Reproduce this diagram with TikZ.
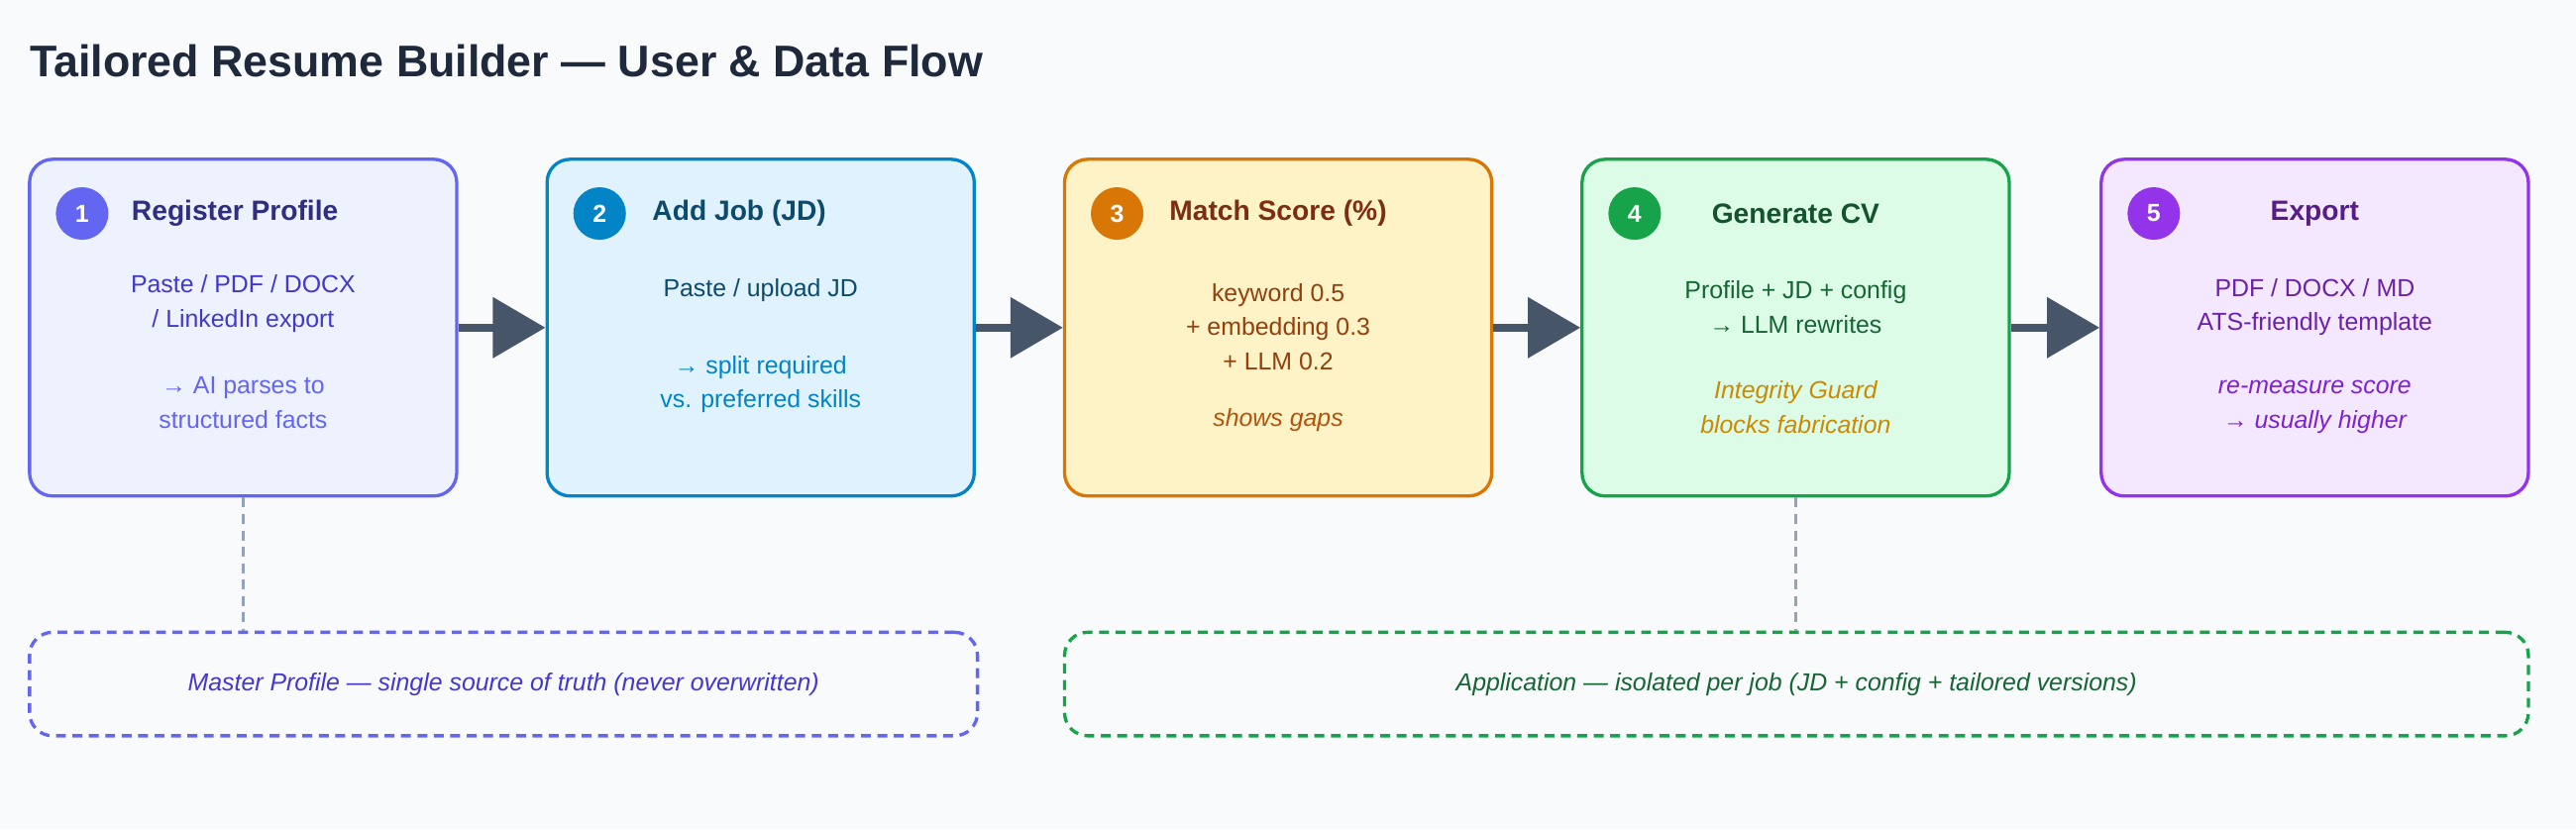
\documentclass[tikz,border=0pt]{standalone}
\usepackage{fontspec}
\setmainfont{Liberation Sans}
\usepackage{tikz}
\usetikzlibrary{arrows.meta, positioning}

\definecolor{bgpage}{HTML}{F8FAFC}
\definecolor{arrowgray}{HTML}{475569}
\definecolor{dashgray}{HTML}{94A3B8}
\definecolor{titlecol}{HTML}{1E293B}
% indigo
\definecolor{indigoA}{HTML}{6366F1}
\definecolor{indigoF}{HTML}{EEF2FF}
\definecolor{indigoT}{HTML}{312E81}
\definecolor{indigoB}{HTML}{4338CA}
% sky
\definecolor{skyA}{HTML}{0284C7}
\definecolor{skyF}{HTML}{E0F2FE}
\definecolor{skyT}{HTML}{0C4A6E}
% amber
\definecolor{amberA}{HTML}{D97706}
\definecolor{amberF}{HTML}{FEF3C7}
\definecolor{amberT}{HTML}{7C2D12}
\definecolor{amberB}{HTML}{92400E}
\definecolor{amberS}{HTML}{B45309}
% green
\definecolor{greenA}{HTML}{16A34A}
\definecolor{greenF}{HTML}{DCFCE7}
\definecolor{greenT}{HTML}{14532D}
\definecolor{greenB}{HTML}{166534}
\definecolor{goldS}{HTML}{CA8A04}
% purple
\definecolor{purpleA}{HTML}{9333EA}
\definecolor{purpleF}{HTML}{F3E8FF}
\definecolor{purpleT}{HTML}{581C87}
\definecolor{purpleB}{HTML}{6B21A8}
\definecolor{purpleS}{HTML}{7E22CE}

\begin{document}
\begin{tikzpicture}[
			x=1pt, y=-1pt,
			nodes = {
				align = center,
				inner sep = 0pt
			},
			block/.style={
				draw=#1,
				line width=2pt,
				rounded corners=14pt,
				rectangle,
				minimum width=260pt,
				minimum height=205pt
			},
			badge/.style={
				circle,
				fill=#1,
				text=white,
				minimum size=32pt,
				font=\fontsize{15}{18}\selectfont\bfseries
			},
			head/.style={
				font=\fontsize{17}{20}\selectfont\bfseries
			},
			body/.style={
				font=\fontsize{15}{21}\selectfont
			},
			note/.style={
				font=\fontsize{15}{21}\selectfont\itshape
			},
			group/.style={
				draw=#1,
				dash pattern=on 6pt off 4pt,
				line width=2pt,
				rounded corners=14pt,
				rectangle,
				minimum height=63pt
			},
			lines/.style={
				line width=5pt,
				draw=arrowgray,
				-{Triangle[length=32pt,width=36pt]}
			}
		]
			\fill[bgpage] (0,0) rectangle (1568,505);

			\node[anchor=base west, text=titlecol,
				font=\fontsize{27}{30}\selectfont\bfseries]
				(title) at (18,47) {Tailored Resume Builder — User \& Data Flow};

			% step 1
			\node[block=indigoA, fill=indigoF] (reg) at (148,199.5) {};
			\node[badge=indigoA] (n1) at (50,130) {1};
			\node[head, text=indigoT, anchor=west] (treg) at (80,130) {Register Profile};
			\node[body, text=indigoB] (breg) at (148,185) {Paste / PDF / DOCX\\/ LinkedIn export};
			\node[body, text=indigoA] (sreg) at (148,245) {→ AI parses to\\structured facts};

			% step 2
			\node[block=skyA, fill=skyF] (job) at (463,199.5) {};
			\node[badge=skyA] (n2) at (365,130) {2};
			\node[head, text=skyT] (tjob) at (450,130) {Add Job (JD)};
			\node[body, text=skyT] (bjob) at (463,177) {Paste / upload JD};
			\node[body, text=skyA] (sjob) at (463,234) {→ split required\\vs. preferred skills};

			% step 3
			\node[block=amberA, fill=amberF] (match) at (778,199.5) {};
			\node[badge=amberA] (n3) at (680,130) {3};
			\node[head, text=amberT] (tmatch) at (778,130) {Match Score (\%)};
			\node[body, text=amberB] (bmatch) at (778,199) {keyword 0.5\\+ embedding 0.3\\+ LLM 0.2};
			\node[note, text=amberS] (smatch) at (778,256) {shows gaps};

			% step 4
			\node[block=greenA, fill=greenF] (gen) at (1093,199.5) {};
			\node[badge=greenA] (n4) at (995,130) {4};
			\node[head, text=greenT] (tgen) at (1093,130) {Generate CV};
			\node[body, text=greenB] (bgen) at (1093,187) {Profile + JD + config\\→ LLM rewrites};
			\node[note, text=goldS] (sgen) at (1093,248) {Integrity Guard\\blocks fabrication};

			% step 5
			\node[block=purpleA, fill=purpleF] (exp) at (1409,199.5) {};
			\node[badge=purpleA] (n5) at (1311,130) {5};
			\node[head, text=purpleT] (texp) at (1409,130) {Export};
			\node[body, text=purpleB] (bexp) at (1409,187) {PDF / DOCX / MD\\ATS-friendly template};
			\node[note, text=purpleS] (sexp) at (1409,248) {re-measure score\\→ usually higher};

			\draw[lines] (reg.east) -- (job.west);
			\draw[lines] (job.east) -- (match.west);
			\draw[lines] (match.east) -- (gen.west);
			\draw[lines] (gen.east) -- (exp.west);

			% data scopes
			\node[group=indigoA, minimum width=577pt, note, text=indigoB]
				(master) at (306.5,416.5)
				{Master Profile — single source of truth (never overwritten)};
			\node[group=greenA, minimum width=891pt, note, text=greenB]
				(app) at (1093.5,416.5)
				{Application — isolated per job (JD + config + tailored versions)};

			\draw[dashgray, line width=2pt, dash pattern=on 6pt off 4pt] (reg.south) -- (master.north -| reg.south);
			\draw[dashgray, line width=2pt, dash pattern=on 6pt off 4pt] (gen.south) -- (app.north -| gen.south);
		\end{tikzpicture}
\end{document}
